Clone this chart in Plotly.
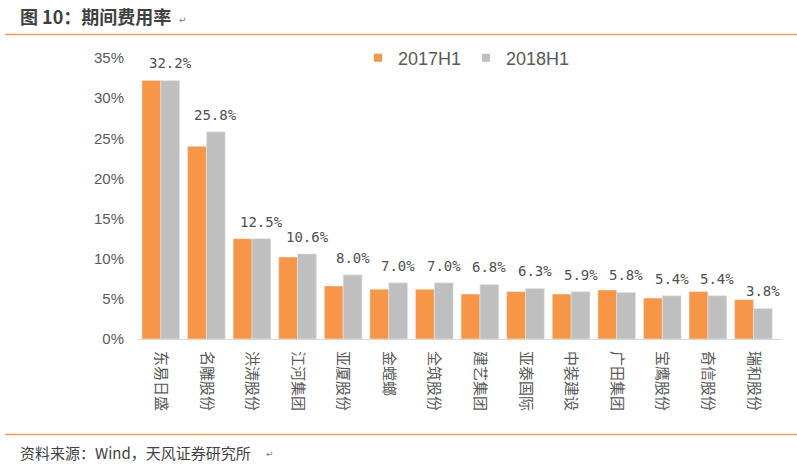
import plotly.graph_objects as go

categories = ["东易日盛", "名雕股份", "洪涛股份", "江河集团", "亚厦股份", "金螳螂", "全筑股份",
              "建艺集团", "亚泰国际", "中装建设", "广田集团", "宝鹰股份", "奇信股份", "瑞和股份"]
v2017 = [32.2, 24.0, 12.5, 10.2, 6.6, 6.2, 6.2, 5.6, 5.9, 5.6, 6.1, 5.1, 5.9, 4.9]
v2018 = [32.2, 25.8, 12.5, 10.6, 8.0, 7.0, 7.0, 6.8, 6.3, 5.9, 5.8, 5.4, 5.4, 3.8]
series_names = ["2017H1", "2018H1"]
y_ticks = [0, 5, 10, 15, 20, 25, 30, 35]

W, H = 797, 471
L, R, T, B = 138, 782, 58, 339

def px_x(x):
    return (x - L) / (R - L)

def px_y(y):
    return (B - y) / (B - T)

ORANGE = "#F79646"
GRAY = "#BFBFBF"
LINE = "#E8A15C"
TXT = "#595959"

fig = go.Figure()
fig.add_trace(go.Bar(x=categories, y=v2017, name=series_names[0], marker_color=ORANGE,
                     showlegend=False, hoverinfo="skip"))
fig.add_trace(go.Bar(x=categories, y=v2018, name=series_names[1], marker_color=GRAY,
                     showlegend=False, hoverinfo="skip"))
# legend entries with small square markers
for nm, col in zip(series_names, [ORANGE, GRAY]):
    fig.add_trace(go.Scatter(x=[None], y=[None], mode="markers", name=nm,
                             marker=dict(symbol="square", size=8, color=col)))

annotations = []
for cat, v in zip(categories, v2018):
    annotations.append(dict(x=cat, y=v, xref="x", yref="y", text=f"{v:.1f}%",
                            showarrow=False, xanchor="center", yanchor="bottom",
                            xshift=9.5, yshift=7,
                            font=dict(family="DejaVu Sans Mono", size=14, color="#505050")))

annotations.append(dict(x=px_x(18), y=px_y(16), xref="paper", yref="paper",
                        text="<b>图 10：期间费用率</b>", showarrow=False,
                        xanchor="left", yanchor="middle",
                        font=dict(family="Noto Sans CJK SC", size=18, color="#404040")))
annotations.append(dict(x=px_x(177), y=px_y(20), xref="paper", yref="paper",
                        text="↵", showarrow=False, xanchor="left", yanchor="middle",
                        font=dict(family="DejaVu Sans", size=9, color="#808080")))
annotations.append(dict(x=px_x(18), y=px_y(452), xref="paper", yref="paper",
                        text="资料来源：Wind，天风证券研究所", showarrow=False,
                        xanchor="left", yanchor="middle",
                        font=dict(family="Noto Sans CJK SC", size=15, color="#404040")))
annotations.append(dict(x=px_x(264), y=px_y(454), xref="paper", yref="paper",
                        text="↵", showarrow=False, xanchor="left", yanchor="middle",
                        font=dict(family="DejaVu Sans", size=9, color="#808080")))

shapes = [
    dict(type="line", xref="paper", yref="paper", x0=px_x(5), x1=px_x(797),
         y0=px_y(34.5), y1=px_y(34.5), line=dict(color=LINE, width=1.5)),
    dict(type="line", xref="paper", yref="paper", x0=px_x(5), x1=px_x(797),
         y0=px_y(434.5), y1=px_y(434.5), line=dict(color=LINE, width=1.5)),
]

fig.update_layout(
    width=W, height=H,
    margin=dict(l=L, r=W - R, t=T, b=H - B, pad=0, autoexpand=False),
    paper_bgcolor="white", plot_bgcolor="white",
    barmode="group", bargap=0.174, bargroupgap=0,
    annotations=annotations, shapes=shapes,
    legend=dict(orientation="h", xref="container", yref="container",
                x=358 / W, y=1 - 58 / H, xanchor="left", yanchor="middle",
                font=dict(family="Liberation Sans", size=18, color=TXT),
                bgcolor="rgba(0,0,0,0)", itemwidth=30, tracegroupgap=0),
    xaxis=dict(type="category", showline=True, linecolor="#D9D9D9", linewidth=1,
               showgrid=False, zeroline=False, ticks="", tickangle=90,
               ticklabelstandoff=8, automargin=False,
               tickfont=dict(family="Noto Sans CJK SC", size=15, color=TXT)),
    yaxis=dict(range=[0, 35], tickvals=y_ticks, ticktext=[f"{t}%" for t in y_ticks],
               showgrid=False, zeroline=False, showline=False, ticks="",
               ticklabelstandoff=13, automargin=False,
               tickfont=dict(family="Liberation Sans", size=15, color=TXT)),
)

fig.write_html("out.html", config={"displayModeBar": False},
               post_script="document.body.style.margin='0px';document.body.style.padding='0px';")
